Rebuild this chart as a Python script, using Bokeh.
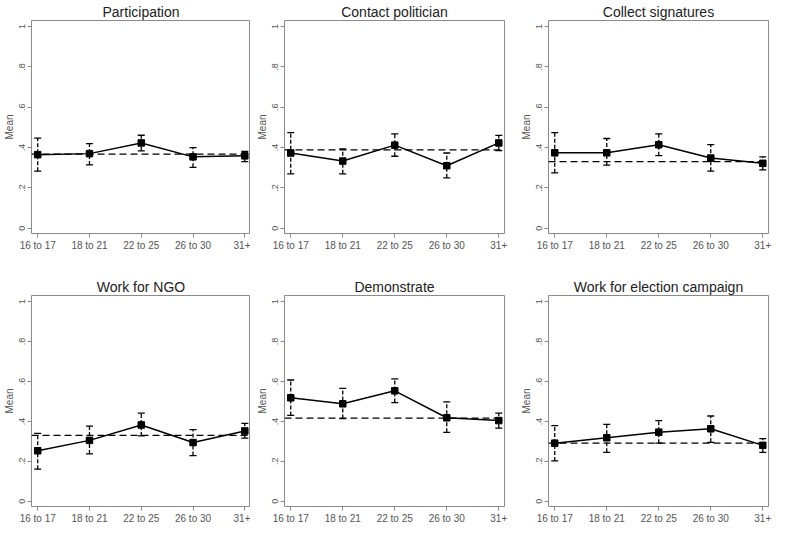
from bokeh.plotting import figure
from bokeh.layouts import gridplot
from bokeh.models import ColumnDataSource, Whisker, TeeHead, Span, FixedTicker, Range1d
from bokeh.embed import file_html
from bokeh.resources import INLINE

age_groups = ["16 to 17", "18 to 21", "22 to 25", "26 to 30", "31+"]
y_ticks = [0, 0.2, 0.4, 0.6, 0.8, 1.0]
y_tick_labels = ["0", ".2", ".4", ".6", ".8", "1"]

titles = ["Participation", "Contact politician", "Collect signatures",
          "Work for NGO", "Demonstrate", "Work for election campaign"]

participation_mean = [0.365, 0.370, 0.423, 0.354, 0.359]
participation_upper = [0.447, 0.420, 0.461, 0.400, 0.381]
participation_lower = [0.283, 0.314, 0.384, 0.302, 0.330]
participation_overall = 0.368

contact_mean = [0.373, 0.333, 0.412, 0.310, 0.423]
contact_upper = [0.474, 0.393, 0.468, 0.373, 0.460]
contact_lower = [0.270, 0.270, 0.357, 0.250, 0.385]
contact_overall = 0.389

signatures_mean = [0.374, 0.374, 0.414, 0.348, 0.322]
signatures_upper = [0.474, 0.445, 0.468, 0.415, 0.354]
signatures_lower = [0.275, 0.313, 0.360, 0.283, 0.289]
signatures_overall = 0.330

ngo_mean = [0.253, 0.305, 0.382, 0.294, 0.352]
ngo_upper = [0.340, 0.376, 0.441, 0.359, 0.390]
ngo_lower = [0.161, 0.237, 0.327, 0.229, 0.316]
ngo_overall = 0.330

demonstrate_mean = [0.518, 0.488, 0.553, 0.418, 0.404]
demonstrate_upper = [0.607, 0.565, 0.613, 0.498, 0.441]
demonstrate_lower = [0.430, 0.414, 0.494, 0.345, 0.366]
demonstrate_overall = 0.416

campaign_mean = [0.291, 0.318, 0.346, 0.363, 0.280]
campaign_upper = [0.379, 0.385, 0.404, 0.427, 0.314]
campaign_lower = [0.202, 0.245, 0.291, 0.295, 0.245]
campaign_overall = 0.291

series = [
    (participation_mean, participation_upper, participation_lower, participation_overall),
    (contact_mean, contact_upper, contact_lower, contact_overall),
    (signatures_mean, signatures_upper, signatures_lower, signatures_overall),
    (ngo_mean, ngo_upper, ngo_lower, ngo_overall),
    (demonstrate_mean, demonstrate_upper, demonstrate_lower, demonstrate_overall),
    (campaign_mean, campaign_upper, campaign_lower, campaign_overall),
]

FONT = "Liberation Sans"
GREY_TEXT = "#555555"
BOX = "#8a8a8a"

col_layout = [  # (width, min_border_left, min_border_right)
    (250, 30, 0),
    (262, 34, 8),
    (261, 36, 5),
]
row_layout = [  # (height, min_border_top, min_border_bottom)
    (263, 18, 30),
    (263, 32, 16),
]

xs = list(range(1, len(age_groups) + 1))

figs = []
for i, (title, (m, up, lo, overall)) in enumerate(zip(titles, series)):
    r, c = divmod(i, 3)
    w, bl, br = col_layout[c]
    h, bt, bb = row_layout[r]
    p = figure(width=w, height=h, output_backend="svg", toolbar_location=None,
               x_range=Range1d(0.88, 5.11), y_range=Range1d(-0.026, 1.03),
               min_border_left=bl, min_border_right=br,
               min_border_top=bt, min_border_bottom=bb,
               title=title)
    p.title.text_font = FONT
    p.title.text_font_size = "14px"
    p.title.text_font_style = "normal"
    p.title.text_color = "#222222"
    p.title.align = "center"
    p.title.standoff = 2
    p.grid.visible = False
    p.outline_line_color = BOX
    p.outline_line_width = 1
    p.background_fill_color = "white"
    p.border_fill_color = "white"

    p.xaxis.ticker = FixedTicker(ticks=xs)
    p.xaxis.major_label_overrides = {x: lab for x, lab in zip(xs, age_groups)}
    p.yaxis.ticker = FixedTicker(ticks=y_ticks)
    p.yaxis.major_label_overrides = {t: lab for t, lab in zip(y_ticks, y_tick_labels)}
    p.yaxis.major_label_orientation = "vertical"
    p.yaxis.axis_label = "Mean"
    for ax in (p.xaxis[0], p.yaxis[0]):
        ax.axis_line_color = None
        ax.major_tick_line_color = BOX
        ax.major_tick_out = 4
        ax.major_tick_in = 0
        ax.minor_tick_line_color = None
        ax.major_label_text_font = FONT
        ax.major_label_text_color = GREY_TEXT
        ax.major_label_standoff = 2
        ax.axis_label_text_font = FONT
        ax.axis_label_text_font_style = "normal"
        ax.axis_label_text_color = GREY_TEXT
        ax.axis_label_text_font_size = "10px"
        ax.axis_label_standoff = 2
    p.xaxis.major_label_text_font_size = "10px"
    p.yaxis.major_label_text_font_size = "9px"

    src = ColumnDataSource(dict(x=xs, m=m, up=up, lo=lo))

    p.add_layout(Span(location=overall, dimension="width", line_color="black",
                      line_width=1.3, line_dash="7 4"))

    wh = Whisker(base="x", upper="up", lower="lo", source=src,
                 line_color="black", line_width=1.3, line_dash="4 2",
                 upper_head=TeeHead(size=7, line_color="black", line_width=1.3),
                 lower_head=TeeHead(size=7, line_color="black", line_width=1.3))
    p.add_layout(wh)

    p.line("x", "m", source=src, line_color="black", line_width=1.5)
    p.scatter("x", "m", source=src, marker="square", size=6.5,
              fill_color="black", line_color="black")
    figs.append(p)

grid = gridplot([figs[0:3], figs[3:6]], toolbar_location=None)

open("out.html", "w").write(file_html(grid, INLINE))
